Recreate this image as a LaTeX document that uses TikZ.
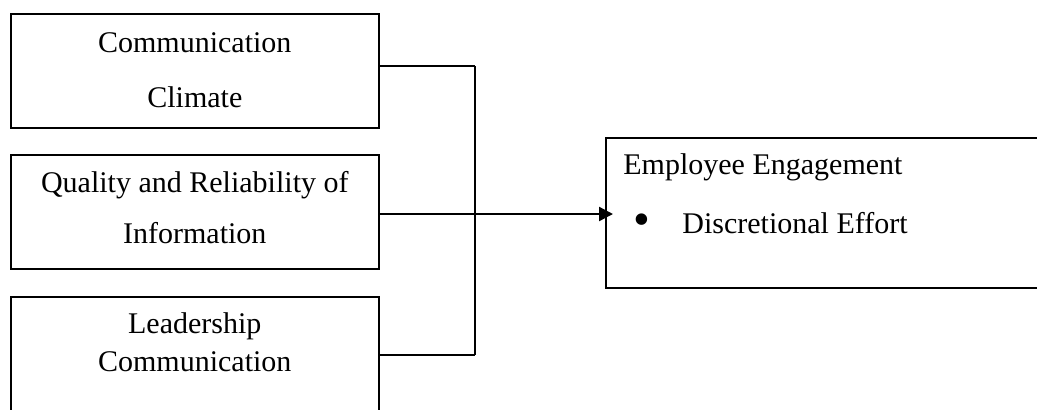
\documentclass[tikz,border=0pt]{standalone}
\usepackage{fontspec}
\setmainfont{Liberation Serif}
\usetikzlibrary{calc,arrows.meta}
\begin{document}
\begin{tikzpicture}[x=0.5pt,y=-0.5pt,
  box/.style={draw,line width=0.8pt,rectangle,inner sep=0pt,anchor=north west,minimum width=184pt},
  lbl/.style={inner sep=0pt,anchor=base,font=\fontsize{15}{18}\selectfont},
  lblw/.style={inner sep=0pt,anchor=base west,font=\fontsize{15}{18}\selectfont},
  conn/.style={line width=1.15pt},
  bar/.style={line width=1.4pt}]
\useasboundingbox (0,0) rectangle (1037,409);
% left boxes
\node[box,minimum height=57pt] (b1) at (10,13) {};
\node[box,minimum height=57pt] (b2) at (10,154) {};
\node[box,minimum height=70pt] (b3) at (10,296) {};
% right box (extends past the right edge)
\node[draw,line width=0.8pt,rectangle,inner sep=0pt,anchor=north west,minimum width=230pt,minimum height=75pt] (r) at (605,137) {};
% labels
\node[lbl] (t1a) at ($(b1.north)+(0,39)$) {Communication};
\node[lbl] (t1b) at ($(b1.north)+(0,94)$) {Climate};
\node[lbl] (t2a) at ($(b2.north)+(0,38)$) {Quality and Reliability of};
\node[lbl] (t2b) at ($(b2.north)+(0,89)$) {Information};
\node[lbl] (t3a) at ($(b3.north)+(0,37)$) {Leadership};
\node[lbl] (t3b) at ($(b3.north)+(0,75)$) {Communication};
\node[lblw] (e1) at ($(r.north west)+(18,37)$) {Employee Engagement};
\node[inner sep=0pt,anchor=base west,font=\fontsize{24}{24}\selectfont] (e2) at ($(r.north west)+(28,98)$) {\textbullet};
\node[lblw] (e3) at ($(r.north west)+(77,96)$) {Discretional Effort};
% connectors
\coordinate (p1) at ($(b1.north east)+(0,53)$);
\coordinate (p3) at ($(b3.north east)+(0,59)$);
\coordinate (v1) at (475,66);
\coordinate (v3) at (475,355);
\coordinate (p2) at ($(b2.north east)+(0,60)$);
\draw[conn] (p1) -- (v1);
\draw[conn] (p3) -- (v3);
\draw[bar] (v1) -- (v3);
\draw[conn,-{Triangle[length=7pt,width=7pt]}] (p2) -- ($(r.west |- p2)+(8,0)$);
\end{tikzpicture}
\end{document}
